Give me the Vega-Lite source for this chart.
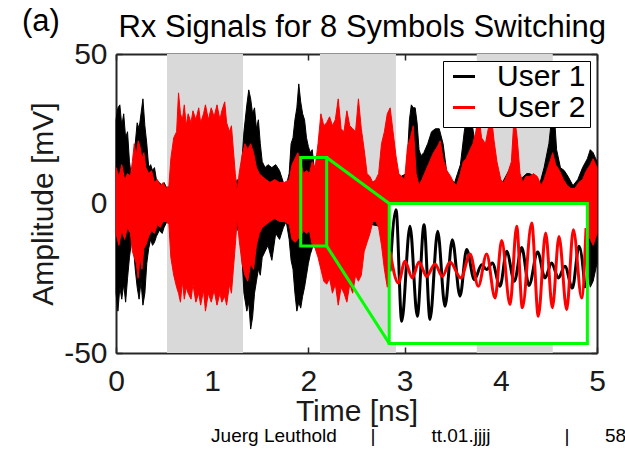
{
 "$schema": "https://vega.github.io/schema/vega-lite/v6.json",
 "width": 481,
 "height": 299,
 "autosize": {"type": "none"},
 "padding": {"left": 116, "top": 54, "right": 28, "bottom": 97},
 "background": "white",
 "config": {
  "view": {"stroke": null},
  "font": "Liberation Sans",
  "axis": {"domainColor": "#262626", "domainWidth": 2, "tickColor": "#262626", "tickWidth": 1.5, "tickSize": -6, "labelFontSize": 30, "labelColor": "#1a1a1a", "titleFontSize": 30, "titleFontWeight": "normal", "titleColor": "#1a1a1a", "grid": false, "zindex": 1, "labelFont": "Liberation Sans", "titleFont": "Liberation Sans", "labelFlush": false, "labelExpr": "'' + datum.value"}
 },
 "datasets": {
  "bands": [{"start": 0.53, "end": 1.32}, {"start": 2.12, "end": 2.91}, {"start": 3.75, "end": 4.54}],
  "user1": [
   {"t":0.00,"hi":28,"lo":-30},{"t":0.02,"hi":32,"lo":-36},{"t":0.04,"hi":33,"lo":-28},{"t":0.06,"hi":26,"lo":-32},{"t":0.08,"hi":30,"lo":-27},{"t":0.10,"hi":22,"lo":-33},{"t":0.12,"hi":24,"lo":-25},{"t":0.14,"hi":14,"lo":-18},{"t":0.16,"hi":9,"lo":-13},{"t":0.18,"hi":12,"lo":-14},{"t":0.20,"hi":20,"lo":-22},{"t":0.22,"hi":27,"lo":-28},{"t":0.24,"hi":25,"lo":-32},{"t":0.26,"hi":30,"lo":-26},{"t":0.28,"hi":35,"lo":-34},{"t":0.30,"hi":26,"lo":-30},{"t":0.32,"hi":20,"lo":-20},{"t":0.34,"hi":12,"lo":-15},{"t":0.36,"hi":13,"lo":-12},{"t":0.38,"hi":11,"lo":-14},{"t":0.40,"hi":12,"lo":-13},{"t":0.42,"hi":8,"lo":-11},{"t":0.45,"hi":7,"lo":-9},{"t":0.48,"hi":6,"lo":-10},{"t":0.50,"hi":7,"lo":-8},{"t":0.53,"hi":5,"lo":-6},{"t":0.56,"hi":4,"lo":-5},{"t":0.80,"hi":5,"lo":-5},{"t":1.00,"hi":6,"lo":-6},{"t":1.24,"hi":6,"lo":-7},{"t":1.26,"hi":8,"lo":-9},{"t":1.28,"hi":7,"lo":-8},{"t":1.30,"hi":10,"lo":-12},{"t":1.33,"hi":24,"lo":-30},{"t":1.36,"hi":33,"lo":-36},{"t":1.38,"hi":38,"lo":-33},{"t":1.40,"hi":35,"lo":-42},{"t":1.42,"hi":30,"lo":-38},{"t":1.44,"hi":32,"lo":-30},{"t":1.46,"hi":25,"lo":-26},{"t":1.48,"hi":28,"lo":-22},{"t":1.50,"hi":20,"lo":-24},{"t":1.52,"hi":14,"lo":-18},{"t":1.55,"hi":12,"lo":-16},{"t":1.58,"hi":13,"lo":-14},{"t":1.62,"hi":12,"lo":-19},{"t":1.66,"hi":13,"lo":-10},{"t":1.70,"hi":11,"lo":-12},{"t":1.74,"hi":7,"lo":-8},{"t":1.77,"hi":6,"lo":-6},{"t":1.80,"hi":10,"lo":-12},{"t":1.82,"hi":20,"lo":-19},{"t":1.84,"hi":22,"lo":-22},{"t":1.86,"hi":28,"lo":-30},{"t":1.88,"hi":32,"lo":-36},{"t":1.90,"hi":40,"lo":-33},{"t":1.92,"hi":34,"lo":-35},{"t":1.94,"hi":30,"lo":-31},{"t":1.96,"hi":28,"lo":-28},{"t":1.98,"hi":22,"lo":-24},{"t":2.00,"hi":19,"lo":-20},{"t":2.02,"hi":17,"lo":-17},{"t":2.04,"hi":18,"lo":-15},{"t":2.06,"hi":12,"lo":-12},{"t":2.10,"hi":8,"lo":-9},{"t":2.50,"hi":6,"lo":-6},{"t":2.80,"hi":8,"lo":-8},{"t":2.90,"hi":8,"lo":-10},{"t":3.02,"hi":10,"lo":-10},{"t":3.05,"hi":28,"lo":-20},{"t":3.07,"hi":33,"lo":-25},{"t":3.09,"hi":32,"lo":-25},{"t":3.11,"hi":32,"lo":-25},{"t":3.13,"hi":27,"lo":-25},{"t":3.15,"hi":18,"lo":-20},{"t":3.17,"hi":16,"lo":-15},{"t":3.20,"hi":17,"lo":-15},{"t":3.24,"hi":20,"lo":-15},{"t":3.28,"hi":24,"lo":-15},{"t":3.32,"hi":25,"lo":-15},{"t":3.36,"hi":25,"lo":-15},{"t":3.40,"hi":20,"lo":-15},{"t":3.44,"hi":10,"lo":-10},{"t":3.48,"hi":8,"lo":-8},{"t":3.52,"hi":7,"lo":-8},{"t":3.55,"hi":10,"lo":-10},{"t":3.58,"hi":13,"lo":-12},{"t":3.62,"hi":24,"lo":-18},{"t":3.65,"hi":30,"lo":-20},{"t":3.68,"hi":31,"lo":-20},{"t":3.71,"hi":25,"lo":-18},{"t":3.74,"hi":18,"lo":-15},{"t":3.80,"hi":15,"lo":-12},{"t":3.90,"hi":20,"lo":-15},{"t":4.00,"hi":6,"lo":-6},{"t":4.10,"hi":12,"lo":-12},{"t":4.20,"hi":8,"lo":-8},{"t":4.27,"hi":10,"lo":-9},{"t":4.30,"hi":10,"lo":-9},{"t":4.35,"hi":9,"lo":-8},{"t":4.40,"hi":6,"lo":-6},{"t":4.45,"hi":12,"lo":-10},{"t":4.50,"hi":20,"lo":-15},{"t":4.53,"hi":29,"lo":-20},{"t":4.56,"hi":28,"lo":-20},{"t":4.58,"hi":18,"lo":-15},{"t":4.62,"hi":12,"lo":-12},{"t":4.66,"hi":11,"lo":-10},{"t":4.70,"hi":9,"lo":-8},{"t":4.75,"hi":6,"lo":-6},{"t":4.80,"hi":8,"lo":-8},{"t":4.85,"hi":12,"lo":-15},{"t":4.90,"hi":15,"lo":-22},{"t":4.93,"hi":18,"lo":-28},{"t":4.96,"hi":17,"lo":-26},{"t":5.00,"hi":14,"lo":-20}
  ],
  "user2": [
   {"t":0.00,"hi":12,"lo":-10},{"t":0.03,"hi":9,"lo":-14},{"t":0.06,"hi":13,"lo":-9},{"t":0.09,"hi":8,"lo":-12},{"t":0.12,"hi":10,"lo":-8},{"t":0.15,"hi":9,"lo":-10},{"t":0.17,"hi":14,"lo":-16},{"t":0.19,"hi":20,"lo":-18},{"t":0.21,"hi":16,"lo":-20},{"t":0.23,"hi":21,"lo":-25},{"t":0.25,"hi":19,"lo":-18},{"t":0.27,"hi":15,"lo":-22},{"t":0.29,"hi":17,"lo":-15},{"t":0.31,"hi":12,"lo":-14},{"t":0.34,"hi":10,"lo":-11},{"t":0.37,"hi":11,"lo":-9},{"t":0.40,"hi":7,"lo":-10},{"t":0.43,"hi":8,"lo":-7},{"t":0.46,"hi":6,"lo":-8},{"t":0.49,"hi":7,"lo":-6},{"t":0.52,"hi":5,"lo":-6},{"t":0.55,"hi":6,"lo":-7},{"t":0.57,"hi":15,"lo":-18},{"t":0.60,"hi":22,"lo":-24},{"t":0.63,"hi":24,"lo":-28},{"t":0.65,"hi":37,"lo":-30},{"t":0.67,"hi":30,"lo":-33},{"t":0.69,"hi":28,"lo":-26},{"t":0.71,"hi":33,"lo":-32},{"t":0.73,"hi":26,"lo":-28},{"t":0.75,"hi":30,"lo":-30},{"t":0.78,"hi":27,"lo":-32},{"t":0.80,"hi":31,"lo":-27},{"t":0.83,"hi":28,"lo":-33},{"t":0.86,"hi":32,"lo":-30},{"t":0.88,"hi":27,"lo":-34},{"t":0.91,"hi":30,"lo":-29},{"t":0.93,"hi":33,"lo":-36},{"t":0.96,"hi":28,"lo":-30},{"t":0.99,"hi":32,"lo":-33},{"t":1.02,"hi":29,"lo":-29},{"t":1.05,"hi":33,"lo":-34},{"t":1.08,"hi":28,"lo":-30},{"t":1.10,"hi":31,"lo":-33},{"t":1.13,"hi":34,"lo":-31},{"t":1.15,"hi":27,"lo":-34},{"t":1.18,"hi":24,"lo":-27},{"t":1.20,"hi":26,"lo":-30},{"t":1.22,"hi":18,"lo":-22},{"t":1.24,"hi":10,"lo":-14},{"t":1.26,"hi":4,"lo":-5},{"t":1.28,"hi":10,"lo":-12},{"t":1.31,"hi":16,"lo":-20},{"t":1.34,"hi":20,"lo":-24},{"t":1.37,"hi":18,"lo":-26},{"t":1.40,"hi":20,"lo":-20},{"t":1.43,"hi":17,"lo":-22},{"t":1.46,"hi":12,"lo":-14},{"t":1.49,"hi":10,"lo":-10},{"t":1.52,"hi":9,"lo":-8},{"t":1.56,"hi":8,"lo":-7},{"t":1.60,"hi":7,"lo":-6},{"t":1.65,"hi":8,"lo":-5},{"t":1.70,"hi":7,"lo":-6},{"t":1.75,"hi":7,"lo":-6},{"t":1.80,"hi":8,"lo":-7},{"t":1.83,"hi":13,"lo":-12},{"t":1.86,"hi":15,"lo":-13},{"t":1.89,"hi":17,"lo":-12},{"t":1.92,"hi":14,"lo":-11},{"t":1.95,"hi":10,"lo":-9},{"t":1.98,"hi":11,"lo":-10},{"t":2.01,"hi":10,"lo":-9},{"t":2.04,"hi":14,"lo":-14},{"t":2.07,"hi":12,"lo":-15},{"t":2.10,"hi":20,"lo":-18},{"t":2.13,"hi":30,"lo":-22},{"t":2.16,"hi":26,"lo":-26},{"t":2.19,"hi":27,"lo":-27},{"t":2.22,"hi":29,"lo":-25},{"t":2.25,"hi":26,"lo":-30},{"t":2.28,"hi":28,"lo":-27},{"t":2.31,"hi":35,"lo":-34},{"t":2.34,"hi":25,"lo":-28},{"t":2.37,"hi":24,"lo":-30},{"t":2.40,"hi":31,"lo":-33},{"t":2.43,"hi":26,"lo":-27},{"t":2.46,"hi":25,"lo":-30},{"t":2.49,"hi":24,"lo":-24},{"t":2.52,"hi":35,"lo":-26},{"t":2.55,"hi":25,"lo":-24},{"t":2.58,"hi":18,"lo":-16},{"t":2.61,"hi":10,"lo":-13},{"t":2.64,"hi":9,"lo":-10},{"t":2.67,"hi":7,"lo":-6},{"t":2.70,"hi":8,"lo":-6},{"t":2.73,"hi":10,"lo":-8},{"t":2.76,"hi":20,"lo":-14},{"t":2.79,"hi":24,"lo":-22},{"t":2.82,"hi":30,"lo":-28},{"t":2.85,"hi":32,"lo":-25},{"t":2.88,"hi":24,"lo":-20},{"t":2.91,"hi":16,"lo":-15},{"t":2.94,"hi":10,"lo":-10},{"t":2.97,"hi":9,"lo":-8},{"t":3.00,"hi":8,"lo":-8},{"t":3.03,"hi":19,"lo":-15},{"t":3.06,"hi":22,"lo":-18},{"t":3.09,"hi":26,"lo":-20},{"t":3.12,"hi":10,"lo":-10},{"t":3.15,"hi":6,"lo":-6},{"t":3.18,"hi":8,"lo":-8},{"t":3.22,"hi":11,"lo":-10},{"t":3.26,"hi":14,"lo":-12},{"t":3.30,"hi":17,"lo":-15},{"t":3.34,"hi":19,"lo":-16},{"t":3.37,"hi":21,"lo":-18},{"t":3.40,"hi":15,"lo":-14},{"t":3.44,"hi":11,"lo":-10},{"t":3.48,"hi":9,"lo":-8},{"t":3.51,"hi":7,"lo":-7},{"t":3.54,"hi":6,"lo":-6},{"t":3.57,"hi":9,"lo":-8},{"t":3.61,"hi":14,"lo":-12},{"t":3.64,"hi":15,"lo":-14},{"t":3.68,"hi":18,"lo":-16},{"t":3.71,"hi":20,"lo":-18},{"t":3.74,"hi":24,"lo":-20},{"t":3.77,"hi":30,"lo":-25},{"t":3.80,"hi":22,"lo":-20},{"t":3.84,"hi":20,"lo":-18},{"t":3.87,"hi":25,"lo":-22},{"t":3.90,"hi":30,"lo":-26},{"t":3.93,"hi":21,"lo":-18},{"t":3.96,"hi":14,"lo":-14},{"t":4.00,"hi":8,"lo":-8},{"t":4.03,"hi":7,"lo":-7},{"t":4.07,"hi":10,"lo":-9},{"t":4.11,"hi":14,"lo":-12},{"t":4.14,"hi":30,"lo":-25},{"t":4.17,"hi":22,"lo":-18},{"t":4.20,"hi":10,"lo":-8},{"t":4.23,"hi":7,"lo":-7},{"t":4.26,"hi":9,"lo":-8},{"t":4.30,"hi":9,"lo":-8},{"t":4.34,"hi":10,"lo":-9},{"t":4.38,"hi":9,"lo":-8},{"t":4.42,"hi":6,"lo":-6},{"t":4.45,"hi":8,"lo":-7},{"t":4.48,"hi":11,"lo":-10},{"t":4.51,"hi":14,"lo":-12},{"t":4.54,"hi":17,"lo":-14},{"t":4.57,"hi":13,"lo":-12},{"t":4.61,"hi":11,"lo":-10},{"t":4.65,"hi":8,"lo":-8},{"t":4.69,"hi":6,"lo":-6},{"t":4.73,"hi":5,"lo":-5},{"t":4.77,"hi":5,"lo":-5},{"t":4.81,"hi":7,"lo":-6},{"t":4.85,"hi":8,"lo":-7},{"t":4.89,"hi":11,"lo":-10},{"t":4.93,"hi":13,"lo":-12},{"t":4.96,"hi":15,"lo":-14},{"t":5.00,"hi":12,"lo":-10}
  ],
  "inset": [
   {"user":"User 1","t":2.848,"v":-22.7},{"user":"User 1","t":2.911,"v":-2.1},{"user":"User 1","t":2.970,"v":-39.4},{"user":"User 1","t":3.056,"v":-7.6},{"user":"User 1","t":3.132,"v":-37.7},{"user":"User 1","t":3.202,"v":-7.1},{"user":"User 1","t":3.264,"v":-38.8},{"user":"User 1","t":3.344,"v":-9.3},{"user":"User 1","t":3.420,"v":-34.4},{"user":"User 1","t":3.496,"v":-12.1},{"user":"User 1","t":3.576,"v":-31.0},{"user":"User 1","t":3.645,"v":-15.4},{"user":"User 1","t":3.725,"v":-25.5},{"user":"User 1","t":3.801,"v":-20.5},{"user":"User 1","t":3.853,"v":-22.1},{"user":"User 1","t":3.912,"v":-19.9},{"user":"User 1","t":3.992,"v":-27.7},{"user":"User 1","t":4.061,"v":-16.0},{"user":"User 1","t":4.141,"v":-26.0},{"user":"User 1","t":4.217,"v":-14.7},{"user":"User 1","t":4.293,"v":-27.4},{"user":"User 1","t":4.383,"v":-16.2},{"user":"User 1","t":4.459,"v":-24.9},{"user":"User 1","t":4.529,"v":-19.9},{"user":"User 1","t":4.598,"v":-24.9},{"user":"User 1","t":4.667,"v":-21.0},{"user":"User 1","t":4.744,"v":-28.3},{"user":"User 1","t":4.813,"v":-14.3},{"user":"User 1","t":4.875,"v":-28.3},
   {"user":"User 2","t":2.848,"v":-16.0},{"user":"User 2","t":2.935,"v":-26.6},{"user":"User 2","t":3.004,"v":-19.3},{"user":"User 2","t":3.080,"v":-24.9},{"user":"User 2","t":3.150,"v":-19.6},{"user":"User 2","t":3.229,"v":-24.4},{"user":"User 2","t":3.316,"v":-20.2},{"user":"User 2","t":3.392,"v":-24.4},{"user":"User 2","t":3.472,"v":-19.6},{"user":"User 2","t":3.586,"v":-24.9},{"user":"User 2","t":3.680,"v":-16.9},{"user":"User 2","t":3.766,"v":-27.7},{"user":"User 2","t":3.853,"v":-16.9},{"user":"User 2","t":3.940,"v":-31.6},{"user":"User 2","t":4.009,"v":-12.4},{"user":"User 2","t":4.096,"v":-33.8},{"user":"User 2","t":4.165,"v":-7.6},{"user":"User 2","t":4.224,"v":-34.9},{"user":"User 2","t":4.321,"v":-6.5},{"user":"User 2","t":4.390,"v":-37.7},{"user":"User 2","t":4.466,"v":-9.9},{"user":"User 2","t":4.536,"v":-34.9},{"user":"User 2","t":4.605,"v":-11.0},{"user":"User 2","t":4.685,"v":-35.5},{"user":"User 2","t":4.754,"v":-8.75},{"user":"User 2","t":4.841,"v":-31.6},{"user":"User 2","t":4.886,"v":-8.2}
  ],
  "zoomBox": [{"xa": 1.92, "xb": 2.19, "ya": -14.2, "yb": 15.4}],
  "insetBox": [{"xa": 2.84, "xb": 4.90, "ya": -46.8, "yb": 0}],
  "connectors": [{"xa": 2.19, "ya": 15.4, "xb": 2.84, "yb": 0}, {"xa": 2.19, "ya": -14.2, "xb": 2.84, "yb": -46.8}],
  "headings": [{"t": -0.78, "y": 60.7, "label": "(a)"}, {"t": 2.56, "y": 58.7, "label": "Rx Signals for 8 Symbols Switching"}],
  "footer": [{"t": 1.642, "y": -77.8, "label": "Juerg Leuthold"}, {"t": 2.672, "y": -77.8, "label": "|"}, {"t": 3.586, "y": -77.8, "label": "tt.01.jjjj"}, {"t": 4.688, "y": -77.8, "label": "|"}],
  "footerPage": [{"t": 5.083, "y": -77.8, "label": "58"}]
 },
 "layer": [
  {
   "data": {"name": "bands"},
   "mark": {"type": "rect", "color": "#d9d9d9"},
   "encoding": {
    "x": {"field": "start", "type": "quantitative", "scale": {"domain": [0, 5], "nice": false, "zero": false}, "axis": {"orient": "bottom", "values": [0, 1, 2, 3, 4, 5], "title": "Time [ns]", "labelPadding": 19, "titlePadding": 0}},
    "x2": {"field": "end"}
   }
  },
  {
   "data": {"name": "user1"},
   "mark": {"type": "area", "color": "black", "stroke": "black", "strokeWidth": 1},
   "encoding": {
    "x": {"field": "t", "type": "quantitative", "scale": {"domain": [0, 5], "nice": false, "zero": false}, "axis": {"orient": "top", "values": [0, 1, 2, 3, 4, 5], "labels": false, "title": null}},
    "y": {"field": "hi", "type": "quantitative", "scale": {"domain": [-50, 50], "nice": false, "zero": false}, "axis": {"orient": "left", "values": [-50, 0, 50], "title": "Amplitude [mV]", "labelPadding": 15, "titlePadding": 5}},
    "y2": {"field": "lo"}
   }
  },
  {
   "data": {"name": "user2"},
   "mark": {"type": "area", "color": "#ff0000", "stroke": "#ff0000", "strokeWidth": 1},
   "encoding": {
    "x": {"field": "t", "type": "quantitative", "axis": null},
    "y": {"field": "hi", "type": "quantitative", "axis": {"orient": "right", "values": [-50, 0, 50], "labels": false, "title": null}},
    "y2": {"field": "lo"}
   }
  },
  {
   "data": {"name": "zoomBox"},
   "mark": {"type": "rect", "fill": "white", "fillOpacity": 0, "stroke": "#00ff00", "strokeWidth": 3},
   "encoding": {
    "x": {"field": "xa", "type": "quantitative", "axis": null}, "x2": {"field": "xb"},
    "y": {"field": "ya", "type": "quantitative", "axis": null}, "y2": {"field": "yb"}
   }
  },
  {
   "data": {"name": "connectors"},
   "mark": {"type": "rule", "color": "#00ff00", "strokeWidth": 3},
   "encoding": {
    "x": {"field": "xa", "type": "quantitative", "axis": null}, "x2": {"field": "xb"},
    "y": {"field": "ya", "type": "quantitative", "axis": null}, "y2": {"field": "yb"}
   }
  },
  {
   "data": {"name": "insetBox"},
   "mark": {"type": "rect", "fill": "white"},
   "encoding": {
    "x": {"field": "xa", "type": "quantitative", "axis": null}, "x2": {"field": "xb"},
    "y": {"field": "ya", "type": "quantitative", "axis": null}, "y2": {"field": "yb"}
   }
  },
  {
   "data": {"name": "inset"},
   "mark": {"type": "line", "strokeWidth": 3, "interpolate": "monotone"},
   "encoding": {
    "x": {"field": "t", "type": "quantitative", "axis": null},
    "y": {"field": "v", "type": "quantitative", "axis": null},
    "color": {"field": "user", "type": "nominal", "scale": {"domain": ["User 1", "User 2"], "range": ["black", "#ff0000"]},
     "legend": {"orient": "top-right", "offset": 7, "title": null, "labelFontSize": 30, "labelFont": "Liberation Sans", "labelColor": "black", "symbolType": "stroke", "symbolStrokeWidth": 3, "symbolSize": 484, "symbolOffset": 2, "fillColor": "white", "strokeColor": "black", "padding": 4, "clipHeight": 23, "rowPadding": 0, "labelOffset": 18, "zindex": 2}}
   }
  },
  {
   "data": {"name": "insetBox"},
   "mark": {"type": "rect", "fill": "white", "fillOpacity": 0, "stroke": "#00ff00", "strokeWidth": 3},
   "encoding": {
    "x": {"field": "xa", "type": "quantitative", "axis": null}, "x2": {"field": "xb"},
    "y": {"field": "ya", "type": "quantitative", "axis": null}, "y2": {"field": "yb"}
   }
  },
  {
   "data": {"name": "headings"},
   "mark": {"type": "text", "fontSize": 31, "font": "Liberation Sans", "color": "black"},
   "encoding": {
    "x": {"field": "t", "type": "quantitative", "axis": null},
    "y": {"field": "y", "type": "quantitative", "axis": null},
    "text": {"field": "label"}
   }
  },
  {
   "data": {"name": "footer"},
   "mark": {"type": "text", "fontSize": 19, "font": "Liberation Sans", "color": "black"},
   "encoding": {
    "x": {"field": "t", "type": "quantitative", "axis": null},
    "y": {"field": "y", "type": "quantitative", "axis": null},
    "text": {"field": "label"}
   }
  },
  {
   "data": {"name": "footerPage"},
   "mark": {"type": "text", "fontSize": 19, "font": "Liberation Sans", "color": "black", "align": "left"},
   "encoding": {
    "x": {"field": "t", "type": "quantitative", "axis": null},
    "y": {"field": "y", "type": "quantitative", "axis": null},
    "text": {"field": "label"}
   }
  }
 ],
 "resolve": {"axis": {"x": "independent", "y": "independent"}}
}
